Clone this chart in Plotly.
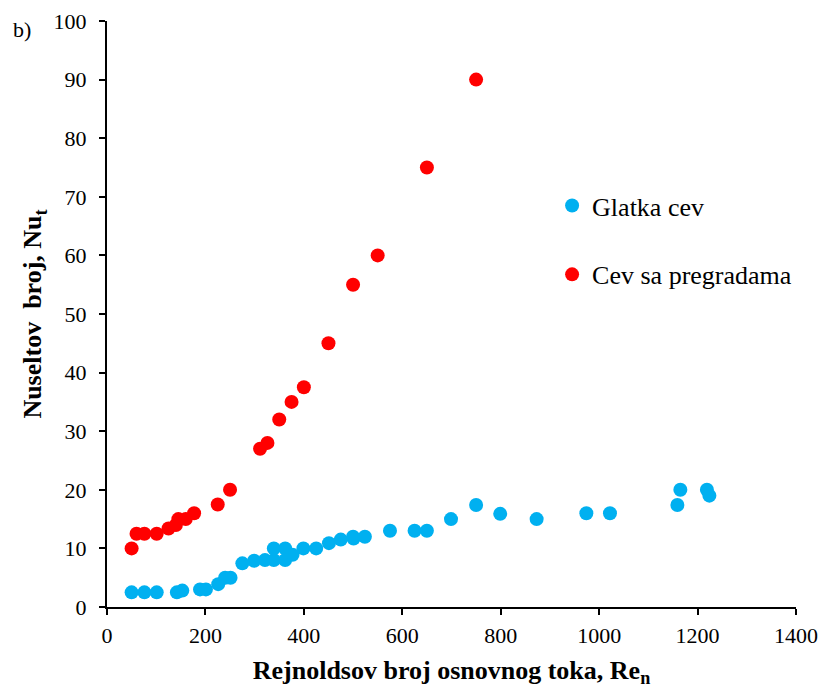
import plotly.graph_objects as go

# Smooth tube (Glatka cev)
re_smooth = [50, 76, 101, 142, 153, 189, 201, 226, 240, 251, 275, 299, 321, 339, 339,
             362, 362, 377, 399, 425, 451, 475, 501, 500, 524, 575, 625, 650, 699, 750,
             799, 873, 974, 1022, 1159, 1165, 1219, 1224]
nu_smooth = [2.5, 2.5, 2.5, 2.5, 2.8, 3.0, 3.0, 3.9, 5.0, 5.0, 7.45, 7.9, 8.0, 8.0, 10.0,
             10.0, 8.0, 8.9, 10.0, 10.0, 10.9, 11.5, 11.7, 12.0, 12.0, 13.0, 13.0, 13.0, 15.0, 17.4,
             15.9, 15.0, 16.0, 16.0, 17.4, 20.0, 20.0, 19.0]

# Tube with baffles (Cev sa pregradama)
re_baffle = [50, 60, 76, 101, 125, 140, 145, 160, 177, 225, 250, 311, 326, 350, 375,
             400, 450, 500, 550, 650, 750]
nu_baffle = [10.0, 12.5, 12.5, 12.5, 13.4, 14.0, 15.0, 15.0, 16.0, 17.5, 20.0, 27.0, 28.0, 32.0, 35.0,
             37.5, 45.0, 55.0, 60.0, 75.0, 90.0]

x_ticks = [0, 200, 400, 600, 800, 1000, 1200, 1400]
y_ticks = [0, 10, 20, 30, 40, 50, 60, 70, 80, 90, 100]

FONT = "Liberation Serif, Times New Roman, serif"

fig = go.Figure()
fig.add_trace(go.Scatter(
    x=re_smooth, y=nu_smooth, mode="markers", name="Glatka cev",
    legendgroup="a",
    marker=dict(color="#00B0F0", size=14, line=dict(width=0)),
))
fig.add_trace(go.Scatter(
    x=re_baffle, y=nu_baffle, mode="markers", name="Cev sa pregradama",
    legendgroup="b",
    marker=dict(color="#FF0000", size=14, line=dict(width=0)),
))

axis_common = dict(
    showgrid=False, zeroline=False, showline=True, linecolor="black", linewidth=2,
    ticks="outside", ticklen=6, tickwidth=2, tickcolor="black",
    tickfont=dict(family=FONT, size=22, color="black"),
)

fig.update_layout(
    width=823, height=691,
    margin=dict(l=107, r=27, t=21, b=84, autoexpand=False),
    paper_bgcolor="white", plot_bgcolor="white",
    font=dict(family=FONT, color="black"),
    xaxis=dict(
        range=[0, 1400], tickvals=x_ticks, **axis_common, ticklabelstandoff=2,
        title=dict(text="<b>Rejnoldsov broj osnovnog toka, Re<sub>n</sub></b>",
                   font=dict(family=FONT, size=26, color="black"), standoff=13),
    ),
    yaxis=dict(
        range=[0, 100], tickvals=y_ticks, **axis_common, ticklabelstandoff=8,
        title=dict(text="<b>Nuseltov  broj, Nu<sub>t</sub></b>",
                   font=dict(family=FONT, size=26, color="black"), standoff=4),
    ),
    legend=dict(
        x=0.646, y=0.725, xanchor="left", yanchor="top",
        font=dict(family=FONT, size=26, color="black"),
        bgcolor="rgba(0,0,0,0)", tracegroupgap=32, itemwidth=30,
    ),
    annotations=[dict(
        text="b)", xref="paper", yref="paper", x=-0.14, y=0.985,
        xanchor="left", yanchor="middle", showarrow=False,
        font=dict(family=FONT, size=22, color="black"),
    )],
)

fig.write_html("out.html")
